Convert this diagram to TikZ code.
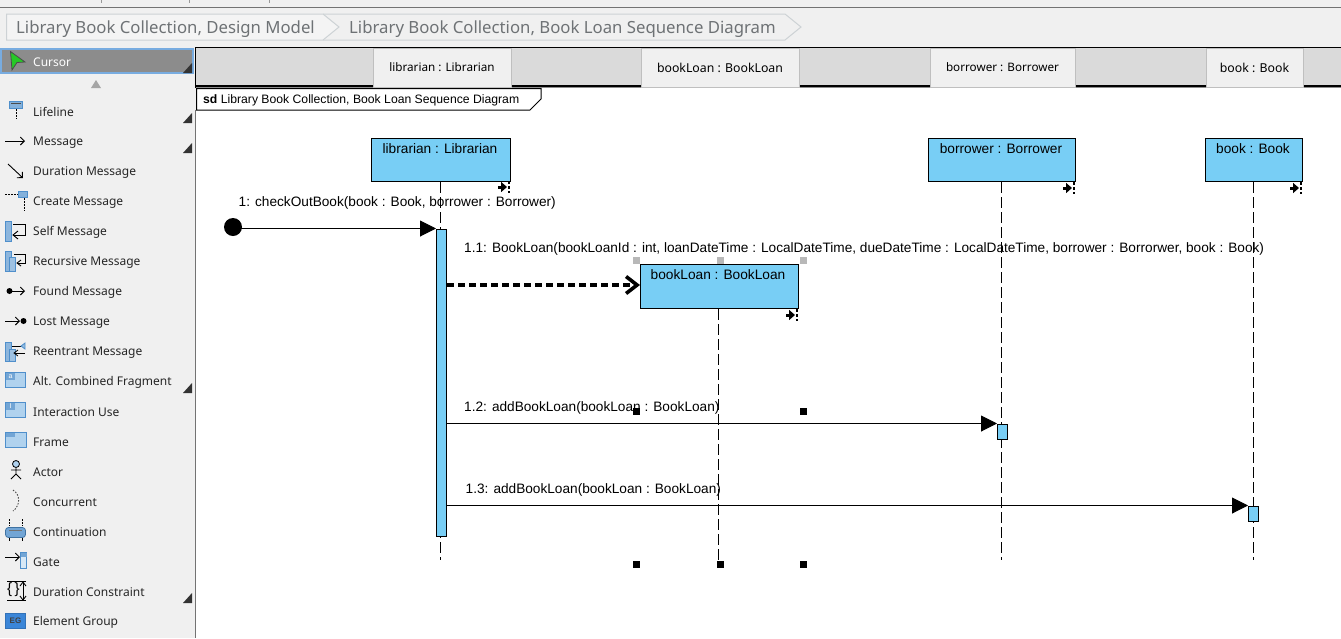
\documentclass[tikz,border=0pt]{standalone}
\usepackage{fontspec}
\setmainfont{Liberation Sans}
\newfontfamily\uifont{Noto Sans}
\usetikzlibrary{arrows.meta,positioning}
\definecolor{panel}{HTML}{F0F0F0}
\definecolor{strip}{HTML}{DADADA}
\definecolor{lifeblue}{HTML}{78CEF5}
\definecolor{iconblue}{HTML}{4F8FCB}
\definecolor{iconlight}{HTML}{B0D2EE}
\definecolor{egblue}{HTML}{3B86D8}
\definecolor{crumb}{HTML}{6E7275}
\definecolor{crumbline}{HTML}{CDD2D5}
\definecolor{cursorbg}{HTML}{8C8C8C}
\definecolor{cursorln}{HTML}{78ACE0}
\tikzset{
 head/.style={draw=black,line width=1.1pt,fill=lifeblue,anchor=north west,inner sep=0pt},
 headtxt/.style={inner sep=0pt,font=\fontsize{13.7}{15}\selectfont},
 act/.style={draw=black,line width=1pt,fill=lifeblue,anchor=north west,inner sep=0pt,minimum width=10pt},
 life/.style={draw=black,line width=1pt,dash pattern=on 11pt off 4pt},
 msg/.style={draw=black,line width=1pt,-{Triangle[length=16pt,width=16pt]}},
 create/.style={draw=black,line width=3.4pt,dash pattern=on 7pt off 4pt,-{Straight Barb[length=11pt,width=17pt,line width=3.6pt]}},
 mlabel/.style={anchor=west,inner sep=0pt,font=\fontsize{13.65}{15}\selectfont},
 tab/.style={draw=white!75!black,line width=1pt,fill=panel,anchor=north west,inner sep=0pt,minimum height=39pt,font=\uifont\fontsize{11.7}{14}\selectfont},
 tabwide/.style={tab,font=\uifont\fontsize{12.3}{14}\selectfont},
 palette/.style={anchor=west,inner sep=0pt,font=\uifont\fontsize{12}{14}\selectfont,text=black!85},
 crumbtxt/.style={anchor=west,inner sep=0pt,text=crumb,font=\uifont\fontsize{16.75}{20}\selectfont},
 grip/.style={fill=black,draw=none,minimum size=7pt,inner sep=0pt},
 ghost/.style={fill=black!28,draw=none,minimum size=7pt,inner sep=0pt},
 ic/.style={draw=iconblue,fill=iconlight,line width=.9pt},
 icl/.style={draw=black,line width=.9pt},
 icarrow/.style={draw=black,line width=.9pt,-{Straight Barb[length=4pt,width=8pt,line width=.9pt]}},
 dots/.style={draw=black,line width=.8pt,dash pattern=on 1.5pt off 1.5pt},
}
\newcommand{\corner}[2]{\fill[black!80] (#1,#2) -- ++(9,0) -- ++(0,-10) -- cycle;}
\newcommand{\stopmark}[2]{\draw[black,line width=3pt,-{Triangle[length=6pt,width=10pt]}] (#1,#2) -- ++(9,0);\draw[black,line width=2.6pt,dash pattern=on 3pt off 2pt] (#1+11,#2-6) -- ++(0,12);}
\begin{document}
\begin{tikzpicture}[x=1pt,y=-1pt]
\useasboundingbox (0,0) rectangle (1341,638);
\fill[panel] (0,0) rectangle (1341,638);
% top window edge
\draw[black!55,line width=1pt] (0,7.5) -- (1341,7.5);
\foreach \x in {101,189,269}{\draw[black!40,line width=.8pt] (\x.5,0) -- (\x.5,3);}
% breadcrumb
\draw[crumbline,line width=1pt,fill=panel!70!white] (6.5,14) -- (323,14) -- (339,27) -- (323,40) -- (6.5,40) -- cycle;
\draw[crumbline,line width=1pt] (323,14) -- (785,14) -- (801,27) -- (785,40) -- (323,40);
\node[crumbtxt] (crumbA) at (16,29.5) {Library Book Collection, Design Model};
\node[crumbtxt] (crumbB) at (349,29.5) {Library Book Collection, Book Loan Sequence Diagram};
% canvas
\fill[white] (196,88) rectangle (1341,638);
\fill[strip] (196,48) rectangle (1341,85);
\draw[black,line width=1pt] (195.5,88) -- (195.5,47.5) -- (1341,47.5);
\draw[black,line width=2pt] (196,86) -- (1341,86);
\draw[black!45,line width=1pt] (196,87.5) -- (1341,87.5);
\node[tab,minimum width=138pt] (tabA) at (372.5,47.5) {librarian : Librarian};
\node[tabwide,minimum width=158pt] (tabB) at (640.5,47.5) {bookLoan : BookLoan};
\node[tab,minimum width=145pt] (tabC) at (929.5,47.5) {borrower : Borrower};
\node[tabwide,minimum width=97pt] (tabD) at (1205.5,47.5) {book : Book};
% sd frame tag
\draw[black,line width=1pt,fill=white] (196.5,88.5) -- (541,88.5) -- (541,99) -- (530,110) -- (196.5,110) -- cycle;
\node[anchor=west,inner sep=0pt,font=\fontsize{12.2}{14}\selectfont] (sd) at (203,100) {\textbf{sd} Library Book Collection, Book Loan Sequence Diagram};
% lifeline heads
\node[head,minimum width=139pt,minimum height=43pt] (hA) at (371,138) {};
\node[headtxt] (tA) at (440,149) {librarian : Librarian};
\node[head,minimum width=147pt,minimum height=43pt] (hC) at (928,138) {};
\node[headtxt] (tC) at (1001,149) {borrower : Borrower};
\node[head,minimum width=97pt,minimum height=43pt] (hD) at (1205,138) {};
\node[headtxt] (tD) at (1253,149) {book : Book};
\node[head,minimum width=158pt,minimum height=44pt] (hB) at (640,264) {};
\node[headtxt] (tB) at (718,275) {bookLoan : BookLoan};
% lifelines
\coordinate (endA) at (440.5,560);
\coordinate (endB) at (718.5,560);
\coordinate (endC) at (1001.5,560);
\coordinate (endD) at (1253.5,560);
\draw[life] (hA.south -| endA) -- (endA);
\draw[life] (hB.south -| endB) -- (endB);
\draw[life] (hC.south -| endC) -- (endC);
\draw[life] (hD.south -| endD) -- (endD);
% activations
\node[act,minimum height=307pt] (aA) at (436,228.5) {};
\node[act,minimum height=15pt] (aC) at (997,423.5) {};
\node[act,minimum height=15pt] (aD) at (1248,505.5) {};
% messages
\node[circle,fill=black,minimum size=18pt,inner sep=0pt] (found) at (233,227) {};
\draw[msg] (found.center |- aA.north) -- (aA.north west);
\draw[create] (aA.east |- 0,285) -- (hB.west |- 0,285);
\draw[msg] (aA.east |- aC.north) -- (aC.north west);
\draw[msg] (aA.east |- aD.north) -- (aD.north west);
\node[mlabel] (m1) at (238.5,203) {1: checkOutBook(book : Book, borrower : Borrower)};
\node[mlabel] (m2) at (464,248.5) {1.1: BookLoan(bookLoanId : int, loanDateTime : LocalDateTime, dueDateTime : LocalDateTime, borrower : Borrorwer, book : Book)};
\node[mlabel] (m3) at (464,408.2) {1.2: addBookLoan(bookLoan : BookLoan)};
\node[mlabel] (m4) at (465.5,490.2) {1.3: addBookLoan(bookLoan : BookLoan)};
% stop markers
\stopmark{498}{187}
\stopmark{1063}{188}
\stopmark{1290}{188}
\stopmark{786}{315}
% selection handles
\node[ghost] (g1) at (636,260.5) {};
\node[ghost] (g2) at (720,260.5) {};
\node[ghost] (g3) at (803.5,260.5) {};
\node[grip] (b1) at (636,411.5) {};
\node[grip] (b2) at (803.5,411.5) {};
\node[grip] (b3) at (636,564) {};
\node[grip] (b4) at (720,564) {};
\node[grip] (b5) at (803.5,564) {};
% palette
\draw[cursorln,line width=1.5pt,fill=cursorbg] (1,49) rectangle (193,73);
\draw[black!70,fill=green!75!black!85,line width=.8pt] (10.5,51.5) -- (25,62) -- (17,62.5) -- (12,70) -- cycle;
\node[palette,text=white] (pCursor) at (33,62.5) {Cursor};
\fill[black!35] (96,80) -- (101,88) -- (91,88) -- cycle;
\corner{183}{73}
\corner{183}{123}
\corner{183}{153}
\corner{183}{393}
\corner{183}{603}
\node[palette] (p1) at (33,112) {Lifeline};
\node[palette] (p2) at (33,142.5) {Message};
\node[palette] (p3) at (33,172.5) {Duration Message};
\node[palette] (p4) at (33,202.5) {Create Message};
\node[palette] (p5) at (33,232.5) {Self Message};
\node[palette] (p6) at (33,262.5) {Recursive Message};
\node[palette] (p7) at (33,292.5) {Found Message};
\node[palette] (p8) at (33,322.5) {Lost Message};
\node[palette] (p9) at (33,352.5) {Reentrant Message};
\node[palette] (p10) at (33,382.5) {Alt. Combined Fragment};
\node[palette] (p11) at (33,412.5) {Interaction Use};
\node[palette] (p12) at (33,442.5) {Frame};
\node[palette] (p13) at (33,472.5) {Actor};
\node[palette] (p14) at (33,502.5) {Concurrent};
\node[palette] (p15) at (33,532.5) {Continuation};
\node[palette] (p16) at (33,562.5) {Gate};
\node[palette] (p17) at (33,592.5) {Duration Constraint};
\node[palette] (p18) at (33,622.5) {Element Group};
% palette icons
\draw[dots] (16.5,109) -- (16.5,119);
\draw[draw=iconblue,fill=iconblue!70,line width=.9pt] (9.5,101.5) rectangle (22.5,108);
\draw[black!70,line width=.8pt] (11,103.5) -- (21,103.5);
\draw[icarrow] (5,141) -- (25,141);
\draw[icarrow] (8,164) -- (23,178);
\draw[dots] (5,194.5) -- (18,194.5);
\draw[dots] (24.5,198) -- (24.5,211);
\draw[draw=iconblue,fill=iconblue!70] (18,191.5) rectangle (27,197);
\draw[ic,fill=iconblue!65] (5.5,221) rectangle (11.5,241);
\draw[black,line width=.9pt] (13,224) -- (25,224) -- (25,235) -- (14,235);
\draw[black,line width=.9pt] (18,231) -- (13,235) -- (18,239);
\draw[ic,fill=iconblue!65] (5.5,251) rectangle (11,271);
\draw[ic,fill=iconblue!55] (9,257) rectangle (15.5,271);
\draw[black,line width=.9pt] (14,254) -- (25,254) -- (25,263) -- (17,263);
\draw[black,line width=.9pt] (21,260) -- (17,263) -- (21,266);
\fill[black] (9.5,291) circle (3pt);
\draw[icarrow] (10,291) -- (25,291);
\draw[icarrow] (5,321) -- (20,321);
\fill[black] (23.5,321) circle (3pt);
\draw[ic,fill=iconblue!65] (5.5,342) rectangle (11,361);
\draw[ic,fill=iconblue!55] (9,349) rectangle (15.5,361);
\draw[black,line width=.8pt] (12,346) -- (22,346);
\draw[iconblue,fill=iconblue!60,line width=.8pt] (25,343) -- (25,349) -- (21,346) -- cycle;
\draw[black,line width=.8pt] (25,353) -- (15,353);
\draw[black,line width=.8pt] (18,350) -- (14,353) -- (18,356);
\draw[ic] (5.5,372.5) rectangle (25.5,387.5);
\fill[iconblue!80] (6,373) rectangle (15,380);
\node[inner sep=0pt,text=white,font=\fontsize{7}{8}\selectfont] (icA) at (10.5,376.5) {a};
\draw[ic] (5.5,402.5) rectangle (25.5,417.5);
\fill[iconblue!80] (6,403) rectangle (15,410);
\node[inner sep=0pt,text=white,font=\fontsize{7}{8}\selectfont] (icI) at (10.5,406.5) {I};
\draw[ic] (5.5,432.5) rectangle (26.5,447.5);
\fill[iconblue!80] (6,433) rectangle (15,437);
\draw[black,line width=.8pt,fill=iconlight] (16,464) circle (3.5pt);
\draw[black,line width=.9pt] (16,467.5) -- (16,474) (11,470) -- (21,470) (11,479) -- (16,474) -- (21,479);
\draw[black!70,line width=.9pt,dash pattern=on 1.5pt off 1.5pt] (13,490) .. controls (21,495) and (20,506) .. (13,511);
\draw[dots] (9.5,519) -- (9.5,526) (22.5,519) -- (22.5,526);
\draw[black,line width=.9pt] (9.5,537) -- (9.5,541) (22.5,537) -- (22.5,541);
\draw[draw=iconblue!80!black,fill=iconblue!80,rounded corners=3pt,line width=.8pt] (5.5,527.5) rectangle (25.5,537.5);
\draw[black!55,line width=1pt] (9,530.5) -- (22,530.5);
\draw[icarrow] (5,557) -- (20,557);
\draw[draw=iconblue,fill=iconlight!50!white,line width=.8pt] (20.5,552.5) rectangle (26.5,568);
\fill[iconblue!80] (20.5,552.5) rectangle (26.5,557);
\draw[black,line width=.9pt] (7,581.5) -- (26,581.5) (7,600.5) -- (26,600.5);
\draw[black,line width=.9pt] (23,583) -- (23,599);
\draw[black,line width=.9pt] (20,586) -- (23,582) -- (26,586) (20,596) -- (23,600) -- (26,596);
\node[inner sep=0pt,font=\fontsize{15}{16}\selectfont] (brace) at (13.5,590) {\{\,\}};
\node[draw=egblue!85!black,fill=egblue,inner sep=0pt,minimum width=20pt,minimum height=15pt,font=\bfseries\fontsize{8}{9}\selectfont,text=black!75] (eg) at (15.5,621) {EG};
% canvas left edge
\draw[black!55,line width=1pt] (195.5,110) -- (195.5,638);
\end{tikzpicture}
\end{document}
